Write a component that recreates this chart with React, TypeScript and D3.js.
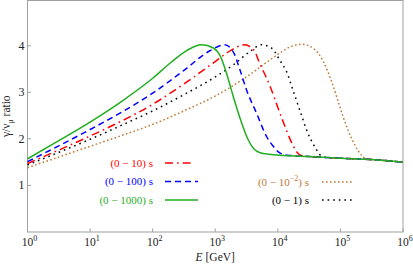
import React from 'react';
import * as d3 from 'd3';

// log10(E / GeV) and gamma / nu_mu ratio, one pair of arrays per run time
const green1000LogE = [0, 0.5, 1, 1.5, 2, 2.3, 2.55, 2.78, 2.97, 3.075, 3.18, 3.29, 3.39, 3.53, 3.62, 3.72, 3.85, 4.5, 5, 5.5, 6];
const green1000Ratio = [1.57, 1.96, 2.36, 2.8, 3.3, 3.65, 3.9, 4.02, 3.95, 3.79, 3.41, 2.9, 2.47, 1.97, 1.78, 1.7, 1.67, 1.62, 1.585, 1.555, 1.5];

const blue100LogE = [0, 0.5, 1, 1.5, 2, 2.5, 2.9, 3.15, 3.29, 3.39, 3.5, 3.66, 3.82, 3.92, 4.03, 4.15, 4.5, 5, 5.5, 6];
const blue100Ratio = [1.51, 1.85, 2.2, 2.57, 2.98, 3.47, 3.88, 4.02, 3.86, 3.5, 3.05, 2.55, 2.05, 1.85, 1.7, 1.65, 1.62, 1.585, 1.555, 1.5];

const red10LogE = [0, 0.5, 1, 1.5, 2, 2.5, 3, 3.25, 3.47, 3.62, 3.71, 3.87, 3.98, 4.09, 4.22, 4.3, 4.4, 5, 5.5, 6];
const red10Ratio = [1.47, 1.76, 2.06, 2.38, 2.74, 3.18, 3.66, 3.9, 4.02, 3.9, 3.62, 3.15, 2.75, 2.35, 1.92, 1.72, 1.63, 1.585, 1.555, 1.5];

const black1LogE = [0, 0.5, 1, 1.5, 2, 2.5, 3, 3.3, 3.55, 3.74, 3.9, 4.03, 4.14, 4.25, 4.35, 4.46, 4.59, 4.7, 4.8, 5, 5.5, 6];
const black1Ratio = [1.44, 1.71, 1.99, 2.29, 2.6, 2.95, 3.33, 3.6, 3.87, 4.02, 3.95, 3.69, 3.44, 3.01, 2.62, 2.19, 1.83, 1.63, 1.6, 1.585, 1.555, 1.5];

const brown001LogE = [0, 0.5, 1, 1.5, 2, 2.5, 3, 3.5, 3.87, 4.03, 4.19, 4.38, 4.57, 4.73, 4.86, 4.99, 5.12, 5.23, 5.34, 5.42, 5.6, 6];
const brown001Ratio = [1.38, 1.61, 1.84, 2.07, 2.31, 2.6, 2.92, 3.33, 3.69, 3.84, 3.97, 4.03, 3.94, 3.65, 3.23, 2.69, 2.19, 1.87, 1.64, 1.57, 1.545, 1.5];

const xTickExponents = [0, 1, 2, 3, 4, 5, 6];
const yTicks = [1, 2, 3, 4];

const W = 413;
const H = 267;
const serif = "'Liberation Serif', 'DejaVu Serif', serif";

const x = d3.scaleLog().domain([1, 1e6]).range([27.5, 403]);
const y = d3.scaleLinear().domain([0, 4.97]).range([232, 0.5]);

const line = d3
  .line<[number, number]>()
  .x(d => x(Math.pow(10, d[0])))
  .y(d => y(d[1]))
  .curve(d3.curveMonotoneX);

type Series = {
  logE: number[];
  ratio: number[];
  color: string;
  dash?: string;
  label: React.ReactNode;
  lx: number; // right end of legend text
  ly: number;
  sample: [number, number];
};

const series: Series[] = [
  {
    logE: brown001LogE, ratio: brown001Ratio, color: '#c07a36', dash: '1.6,2.4',
    label: <>(0 − 10<tspan dy={-5} fontSize={8}>−2</tspan><tspan dy={5}>) s</tspan></>,
    lx: 309, ly: 182, sample: [322, 354],
  },
  {
    logE: black1LogE, ratio: black1Ratio, color: '#000000', dash: '1.6,4',
    label: <>(0 − 1) s</>,
    lx: 309, ly: 200, sample: [322, 354],
  },
  {
    logE: red10LogE, ratio: red10Ratio, color: '#ff0000', dash: '8,4,1.6,4',
    label: <>(0 − 10) s</>,
    lx: 153, ly: 163, sample: [165, 193],
  },
  {
    logE: blue100LogE, ratio: blue100Ratio, color: '#0000ff', dash: '6,4',
    label: <>(0 − 100) s</>,
    lx: 153, ly: 181.5, sample: [165, 198],
  },
  {
    logE: green1000LogE, ratio: green1000Ratio, color: '#1fae1f',
    label: <>(0 − 1000) s</>,
    lx: 153, ly: 200, sample: [165, 198],
  },
];

export default function App() {
  const [x0, x1] = x.range();
  const [yb, yt] = y.range();
  return (
    <svg width={W} height={H} style={{ position: 'absolute', left: 0, top: 0, background: '#fff' }}>
      <g fontFamily={serif}>
        {/* frame */}
        <rect x={x0} y={yt} width={x1 - x0} height={yb - yt} fill="none" stroke="#a0a0a0" strokeWidth={1} />

        {/* x ticks */}
        {xTickExponents.map(n => {
          const px = x(Math.pow(10, n));
          return (
            <g key={'x' + n}>
              <line x1={px} x2={px} y1={yb} y2={yb - 3.5} stroke="#a0a0a0" />
              <text x={px + 2} y={246} textAnchor="middle" fontSize={11.5} fill="#222" fontFamily={serif}>
                10<tspan dy={-5} fontSize={8}>{n}</tspan>
              </text>
            </g>
          );
        })}

        {/* y ticks */}
        {yTicks.map(v => (
          <g key={'y' + v}>
            <line x1={x0} x2={x0 + 3.5} y1={y(v)} y2={y(v)} stroke="#a0a0a0" />
            <text x={x0 - 3} y={y(v) + 4} textAnchor="end" fontSize={12} fill="#222" fontFamily={serif}>{v}</text>
          </g>
        ))}

        {/* axis labels */}
        <text x={(x0 + x1) / 2} y={261} textAnchor="middle" fontSize={11.5} fill="#222" fontFamily={serif}>
          <tspan fontStyle="italic">E</tspan> [GeV]
        </text>
        <text transform={`translate(10,${(yb + yt) / 2}) rotate(-90)`} textAnchor="middle" fontSize={11.5} fill="#222" fontFamily={serif}>
          γ/ν<tspan dy={3} fontSize={8}>μ</tspan><tspan dy={-3}> ratio</tspan>
        </text>

        {/* curves */}
        {series.map((s, i) => (
          <path key={'c' + i}
            d={line(s.logE.map((l, j) => [l, s.ratio[j]] as [number, number])) || ''}
            fill="none" stroke={s.color} strokeWidth={1.5} strokeDasharray={s.dash} />
        ))}

        {/* legend */}
        {series.map((s, i) => (
          <g key={'l' + i}>
            <text x={s.lx} y={s.ly + 3.5} textAnchor="end" fontSize={11} fill={s.color} fontFamily={serif}>{s.label}</text>
            <line x1={s.sample[0]} x2={s.sample[1]} y1={s.ly} y2={s.ly}
              stroke={s.color} strokeWidth={1.5} strokeDasharray={s.dash} />
          </g>
        ))}
      </g>
    </svg>
  );
}
